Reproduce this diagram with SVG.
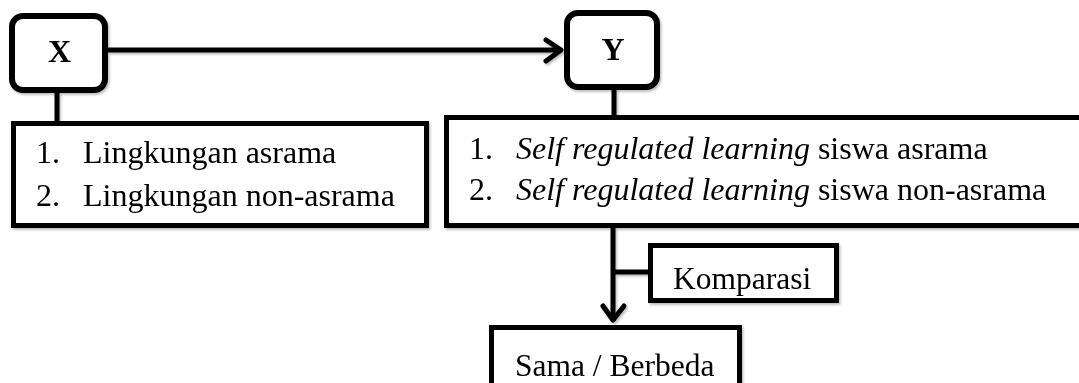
<svg xmlns="http://www.w3.org/2000/svg" width="1079" height="383" viewBox="0 0 1079 383">
<style>
  .box { fill: #fff; stroke: #000; stroke-width: 5; }
  .rbox { fill: #fff; stroke: #000; stroke-width: 6; }
  .ln { fill: none; stroke: #000; stroke-width: 5; }
  .hd { fill: none; stroke: #000; stroke-width: 5; stroke-linecap: round; stroke-linejoin: round; }
  text { font-family: "Liberation Serif", "Times New Roman", serif; font-size: 31.5px; fill: #000; }
  .l { font-size: 32px; }
  .b { font-weight: bold; font-size: 32px; }
  .i { font-style: italic; }
</style>
<defs>
  <filter id="sh" x="-10%" y="-10%" width="130%" height="130%">
    <feDropShadow dx="1.5" dy="2" stdDeviation="1.2" flood-color="#000" flood-opacity="0.25"/>
  </filter>
</defs>
<g id="connectors" filter="url(#sh)">
  <line class="ln" x1="108" y1="50" x2="561" y2="50"/>
  <polyline class="hd" points="546,40 561,50 546,61"/>
  <line class="ln" x1="57" y1="92" x2="57" y2="122"/>
  <line class="ln" x1="614" y1="89" x2="614" y2="116"/>
  <line class="ln" x1="613" y1="227" x2="613" y2="321"/>
  <polyline class="hd" points="603,306 613,320 624,306"/>
  <line class="ln" x1="613" y1="272" x2="649" y2="272"/>
</g>
<g id="node-x" filter="url(#sh)">
  <rect class="rbox" x="12" y="16" width="93" height="74" rx="11"/>
  <text class="b" x="59.5" y="62" text-anchor="middle">X</text>
</g>
<g id="node-y" filter="url(#sh)">
  <rect class="rbox" x="567" y="13" width="90" height="74" rx="11"/>
  <text class="b" x="613" y="60" text-anchor="middle">Y</text>
</g>
<g id="node-x-list" filter="url(#sh)">
  <rect class="box" x="13.5" y="123.5" width="413" height="102"/>
  <text class="l" x="36" y="163">1.</text>
  <text class="l" x="83" y="163">Lingkungan asrama</text>
  <text class="l" x="36" y="206">2.</text>
  <text class="l" x="83" y="206">Lingkungan non-asrama</text>
</g>
<g id="node-y-list" filter="url(#sh)">
  <rect class="box" x="446.5" y="117.5" width="645" height="108"/>
  <text class="l" x="469" y="159">1.</text>
  <text class="l" x="516" y="159"><tspan class="i">Self regulated learning</tspan> siswa asrama</text>
  <text class="l" x="469" y="200">2.</text>
  <text class="l" x="516" y="200"><tspan class="i">Self regulated learning</tspan> siswa non-asrama</text>
</g>
<g id="node-komparasi" filter="url(#sh)">
  <rect class="box" x="650.5" y="245.5" width="186" height="55"/>
  <text x="673" y="289">Komparasi</text>
</g>
<g id="node-hasil" filter="url(#sh)">
  <rect class="box" x="491.5" y="327.5" width="248" height="70"/>
  <text x="515" y="376">Sama / Berbeda</text>
</g>
</svg>
